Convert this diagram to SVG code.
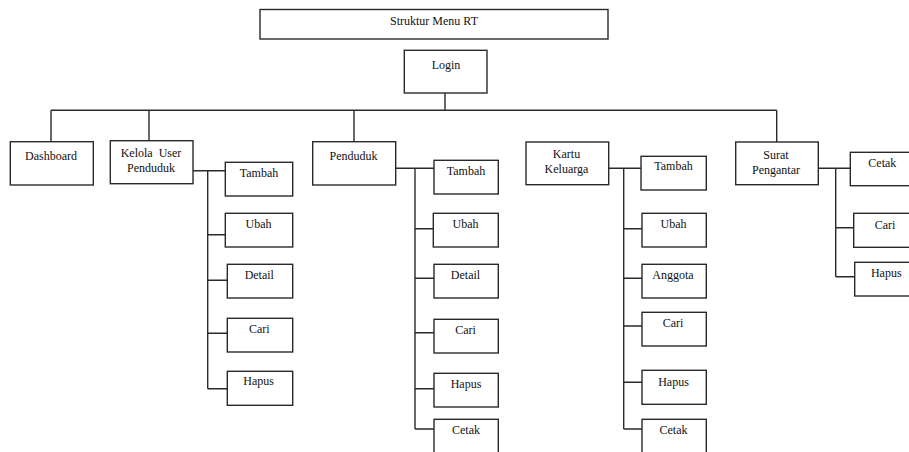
<svg xmlns="http://www.w3.org/2000/svg" width="909" height="452" viewBox="0 0 909 452">
  <style>
    .box { fill: #ffffff; stroke: #2a2a2a; stroke-width: 1.4; }
    .line { fill: none; stroke: #2a2a2a; stroke-width: 1.4; }
    text { font-family: "Liberation Serif", "Times New Roman", serif; font-size: 12px; fill: #111111; text-anchor: middle; }
  </style>
  <rect x="0" y="0" width="909" height="452" fill="#ffffff"/>

  <!-- connectors -->
  <g id="connectors" class="line">
    <!-- Login to top-level menus -->
    <path d="M445 93 V110.3 M51 110.3 H776.7 M51 110.3 V141.7 M149 110.3 V140.7 M354 110.3 V141.7 M776.7 110.3 V142"/>
    <!-- Kelola User Penduduk -->
    <path d="M193 170.7 H225.3 M207.7 170.7 V388.7 M207.7 234.7 H225.3 M207.7 280.3 H227.3 M207.7 333.3 H227.3 M207.7 388.7 H227.3"/>
    <!-- Penduduk -->
    <path d="M395.7 168.3 H434 M415 168.3 V429 M415 228.7 H433.3 M415 278.3 H434 M415 332.7 H434 M415 388.7 H434 M415 429 H434"/>
    <!-- Kartu Keluarga -->
    <path d="M608.7 168.3 H641 M623.7 168.3 V429 M623.7 228.7 H642 M623.7 278.3 H642 M623.7 326 H642 M623.7 382.3 H642 M623.7 429 H642"/>
    <!-- Surat Pengantar -->
    <path d="M818.3 168.3 H850.3 M835.7 168.3 V276.7 M835.7 227.7 H853.7 M835.7 276.7 H854.7"/>
  </g>

  <!-- top -->
  <g id="title">
    <rect class="box" x="260" y="9.5" width="348" height="29.5"/>
    <text x="434" y="25">Struktur Menu RT</text>
  </g>
  <g id="login">
    <rect class="box" x="404.3" y="50.3" width="82.7" height="42.7"/>
    <text x="446" y="69.3">Login</text>
  </g>

  <!-- top-level menus -->
  <g id="dashboard">
    <rect class="box" x="10.3" y="141.7" width="83" height="43.3"/>
    <text x="51" y="160">Dashboard</text>
  </g>
  <g id="kelola-user">
    <rect class="box" x="110.3" y="140.7" width="82.7" height="43"/>
    <text x="151" y="157" word-spacing="3">Kelola User</text>
    <text x="151" y="171.5">Penduduk</text>
  </g>
  <g id="penduduk">
    <rect class="box" x="312.7" y="141.7" width="83" height="43.3"/>
    <text x="353.5" y="160">Penduduk</text>
  </g>
  <g id="kartu-keluarga">
    <rect class="box" x="526" y="142" width="82.7" height="42.7"/>
    <text x="566.5" y="157.5">Kartu</text>
    <text x="566.5" y="172.5">Keluarga</text>
  </g>
  <g id="surat-pengantar">
    <rect class="box" x="735.7" y="142" width="82.6" height="42.7"/>
    <text x="776" y="158.5">Surat</text>
    <text x="776" y="173.5">Pengantar</text>
  </g>

  <!-- Kelola User Penduduk actions -->
  <g id="kelola-tambah">
    <rect class="box" x="225.3" y="162.3" width="67.4" height="33.7"/>
    <text x="259" y="176.7">Tambah</text>
  </g>
  <g id="kelola-ubah">
    <rect class="box" x="225.3" y="213.3" width="67.4" height="33.7"/>
    <text x="258.5" y="228.3">Ubah</text>
  </g>
  <g id="kelola-detail">
    <rect class="box" x="227.3" y="264.3" width="65.4" height="33.7"/>
    <text x="259.3" y="279.3">Detail</text>
  </g>
  <g id="kelola-cari">
    <rect class="box" x="227.3" y="318.3" width="65.4" height="33.7"/>
    <text x="259.3" y="333.3">Cari</text>
  </g>
  <g id="kelola-hapus">
    <rect class="box" x="227.3" y="371.3" width="65.4" height="34"/>
    <text x="258.7" y="385.3">Hapus</text>
  </g>

  <!-- Penduduk actions -->
  <g id="penduduk-tambah">
    <rect class="box" x="434" y="160.3" width="64.3" height="33.7"/>
    <text x="466" y="175.3">Tambah</text>
  </g>
  <g id="penduduk-ubah">
    <rect class="box" x="433.3" y="213.3" width="65" height="33.7"/>
    <text x="465.5" y="228">Ubah</text>
  </g>
  <g id="penduduk-detail">
    <rect class="box" x="434" y="264.3" width="64.3" height="33.7"/>
    <text x="465.5" y="279">Detail</text>
  </g>
  <g id="penduduk-cari">
    <rect class="box" x="434" y="319.3" width="64.3" height="33.7"/>
    <text x="465.5" y="334.3">Cari</text>
  </g>
  <g id="penduduk-hapus">
    <rect class="box" x="434" y="373.3" width="64.3" height="33.7"/>
    <text x="466" y="387.7">Hapus</text>
  </g>
  <g id="penduduk-cetak">
    <rect class="box" x="434" y="419.3" width="64.3" height="40"/>
    <text x="466" y="434">Cetak</text>
  </g>

  <!-- Kartu Keluarga actions -->
  <g id="kk-tambah">
    <rect class="box" x="641" y="156.3" width="65.3" height="33.7"/>
    <text x="673.5" y="170">Tambah</text>
  </g>
  <g id="kk-ubah">
    <rect class="box" x="642" y="213.3" width="64.3" height="33.7"/>
    <text x="673.5" y="228.3">Ubah</text>
  </g>
  <g id="kk-anggota">
    <rect class="box" x="642" y="264.3" width="64.3" height="33.7"/>
    <text x="673" y="279.3">Anggota</text>
  </g>
  <g id="kk-cari">
    <rect class="box" x="642" y="312.3" width="64.3" height="33.7"/>
    <text x="673" y="327.3">Cari</text>
  </g>
  <g id="kk-hapus">
    <rect class="box" x="642" y="370.3" width="64.3" height="34"/>
    <text x="673.5" y="385.7">Hapus</text>
  </g>
  <g id="kk-cetak">
    <rect class="box" x="642" y="419.3" width="64.3" height="40"/>
    <text x="673.5" y="434">Cetak</text>
  </g>

  <!-- Surat Pengantar actions -->
  <g id="surat-cetak">
    <rect class="box" x="850.3" y="152.3" width="80" height="33.4"/>
    <text x="882.3" y="166.5">Cetak</text>
  </g>
  <g id="surat-cari">
    <rect class="box" x="853.7" y="213.3" width="80" height="34"/>
    <text x="885" y="228.5">Cari</text>
  </g>
  <g id="surat-hapus">
    <rect class="box" x="854.7" y="262.3" width="80" height="33.7"/>
    <text x="886.3" y="276.5">Hapus</text>
  </g>
</svg>
